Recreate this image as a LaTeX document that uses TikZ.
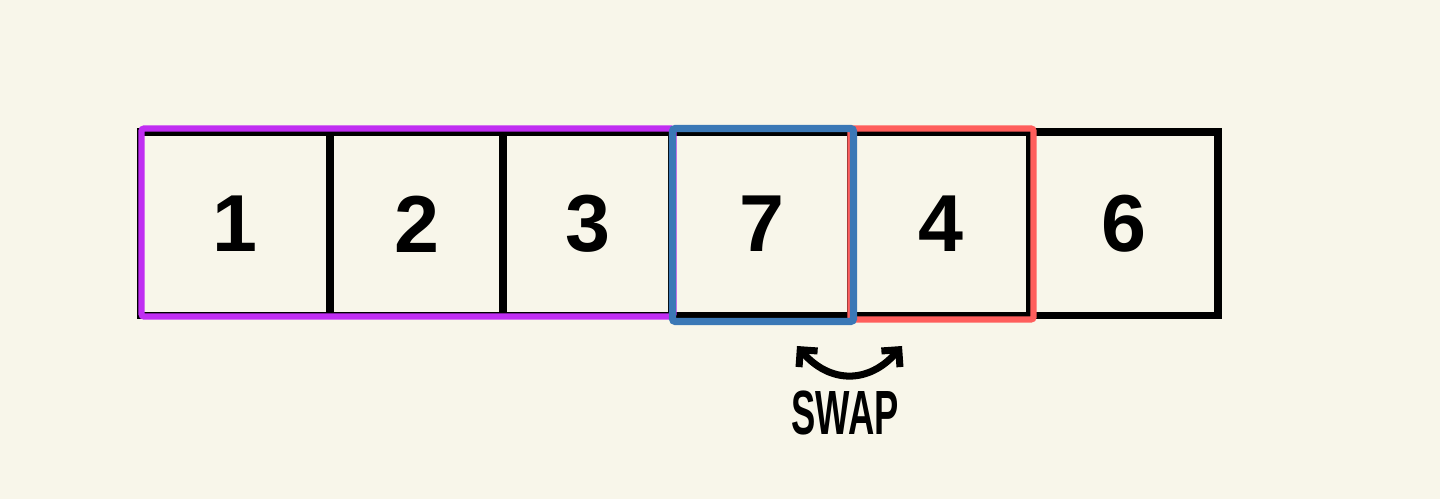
\documentclass[tikz,border=0pt]{standalone}
\usepackage{fontspec}
\setmainfont{Liberation Sans}
\usetikzlibrary{arrows.meta, calc}
\definecolor{cBg}{HTML}{F8F6EA}
\definecolor{cPur}{HTML}{C02EF2}
\definecolor{cBlu}{HTML}{3B78B6}
\definecolor{cRed}{HTML}{FF5E5C}
\tikzset{
    cell/.style ={draw=black, line width=4pt, minimum height=3.68cm, inner sep=0pt,
                  font=\bfseries\fontsize{46}{46}\selectfont},
    grp/.style  ={line width=3.6pt, rounded corners=1.5pt},
    swp/.style  ={{Straight Barb[length=7pt,width=14pt]}-{Straight Barb[length=7pt,width=14pt]},
                  line width=4pt, line cap=round},
    lbl/.style  ={font=\bfseries\fontsize{28}{28}\selectfont, inner sep=0pt},
}

\begin{document}
\begin{tikzpicture}[x=0.02cm, y=-0.02cm]

% ===================== Fondo =====================
\fill[cBg] (0,0) rectangle (1440,499);
\useasboundingbox (0,0) rectangle (1440,499);

% ===================== Celdas del arreglo =====================
\node[cell, minimum width=3.80cm] (c1) at (235,224)   {1};
\node[cell, minimum width=3.46cm] (c2) at (416.5,224) {2};
\node[cell, minimum width=3.38cm] (c3) at (587.5,224) {3};
\node[cell, minimum width=3.58cm] (c4) at (761.5,224) {7};
\node[cell, minimum width=3.58cm] (c5) at (940.5,224) {4};
\node[cell, minimum width=3.76cm] (c6) at (1124,224)  {6};

% ===================== Grupos de color =====================
\draw[grp, cPur] ([xshift=0.1cm]c1.north west) rectangle ([xshift=-0.04cm, yshift=0.06cm]c3.south east);
\draw[grp, cRed] ([xshift=0.06cm]c5.north west) rectangle (c5.south east);
\draw[grp, cBlu, line width=4pt] ([xshift=0.08cm]c4.north west) rectangle ([xshift=-0.02cm, yshift=-0.04cm]c4.south east);

% ===================== Intercambio =====================
\coordinate (sl) at (797,346);
\coordinate (sr) at (902,346);
\draw[swp] (sl) .. controls (830,384) and (869,384) .. (sr);
\node[lbl] (swap) at (845,413) {\scalebox{0.74}[1.27]{SWAP}};

\end{tikzpicture}
\end{document}
